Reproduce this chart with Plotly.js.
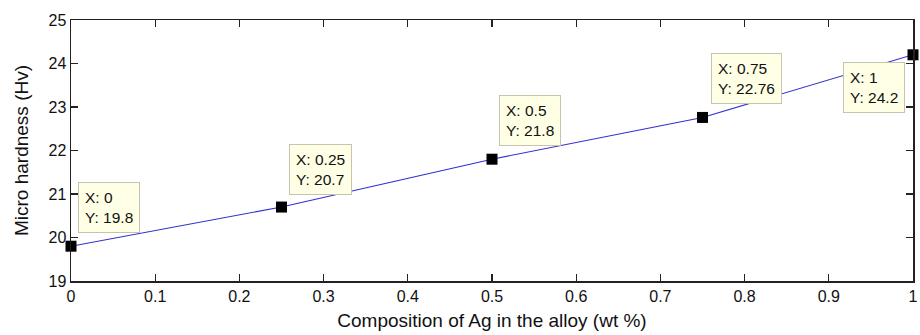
<!DOCTYPE html>
<html>
<head>
<meta charset="utf-8">
<script src="https://cdn.plot.ly/plotly-3.0.1.min.js"></script>
<style>html,body{margin:0;padding:0;background:#fff;}#chart{width:920px;height:335px;}</style>
</head>
<body>
<div id="chart"></div>
<script>
// Data
const composition = [0, 0.25, 0.5, 0.75, 1];
const hardness = [19.8, 20.7, 21.8, 22.76, 24.2];
const tipXLabels = ['0', '0.25', '0.5', '0.75', '1'];
const tipYLabels = ['19.8', '20.7', '21.8', '22.76', '24.2'];
const xTitle = 'Composition of Ag in the alloy (wt %)';
const yTitle = 'Micro hardness (Hv)';

// Datatip placement (pixel offsets from each point, styling only)
const tipPlacement = [
  {xanchor: 'left', yanchor: 'top', xshift: 7, yshift: 64},
  {xanchor: 'left', yanchor: 'top', xshift: 7, yshift: 63},
  {xanchor: 'left', yanchor: 'top', xshift: 7, yshift: 64},
  {xanchor: 'left', yanchor: 'top', xshift: 8, yshift: 64},
  {xanchor: 'right', yanchor: 'top', xshift: -8, yshift: -7}
];

const font = 'Liberation Sans, Arial, Helvetica, sans-serif';

const annotations = composition.map((x, i) => Object.assign({
  x: x, y: hardness[i], xref: 'x', yref: 'y',
  text: 'X: ' + tipXLabels[i] + '<br>Y: ' + tipYLabels[i],
  showarrow: false, align: 'left',
  bgcolor: '#ffffe6', bordercolor: '#c4c4b0', borderwidth: 1, borderpad: 6,
  font: {family: font, size: 15.5, color: '#111'}
}, tipPlacement[i]));

const traces = [{
  x: composition, y: hardness, type: 'scatter', mode: 'lines',
  line: {color: '#3030d0', width: 1.1}, hoverinfo: 'skip', showlegend: false
}, {
  x: composition, y: hardness, type: 'scatter', mode: 'markers',
  marker: {symbol: 'square', size: 11, color: '#000'}, hoverinfo: 'skip', showlegend: false,
  cliponaxis: false
}];

const axisCommon = {
  showgrid: false, zeroline: false, showline: true, mirror: 'ticks',
  linecolor: '#222', linewidth: 1.5, ticks: 'inside', ticklen: 7, tickwidth: 1.2, tickcolor: '#222',
  tickfont: {family: font, size: 16, color: '#111'}
};

const layout = {
  width: 920, height: 335,
  margin: {l: 71, r: 7, t: 20, b: 54},
  paper_bgcolor: '#fff', plot_bgcolor: '#fff',
  xaxis: Object.assign({}, axisCommon, {
    range: [0, 1], dtick: 0.1, tick0: 0,
    title: {text: xTitle, font: {family: font, size: 19, color: '#111'}, standoff: 10}
  }),
  yaxis: Object.assign({}, axisCommon, {
    range: [19, 25], dtick: 1, tick0: 19,
    title: {text: yTitle, font: {family: font, size: 19, color: '#111'}, standoff: 15}
  }),
  annotations: annotations
};

Plotly.newPlot('chart', traces, layout, {displayModeBar: false, staticPlot: true});
</script>
</body>
</html>
